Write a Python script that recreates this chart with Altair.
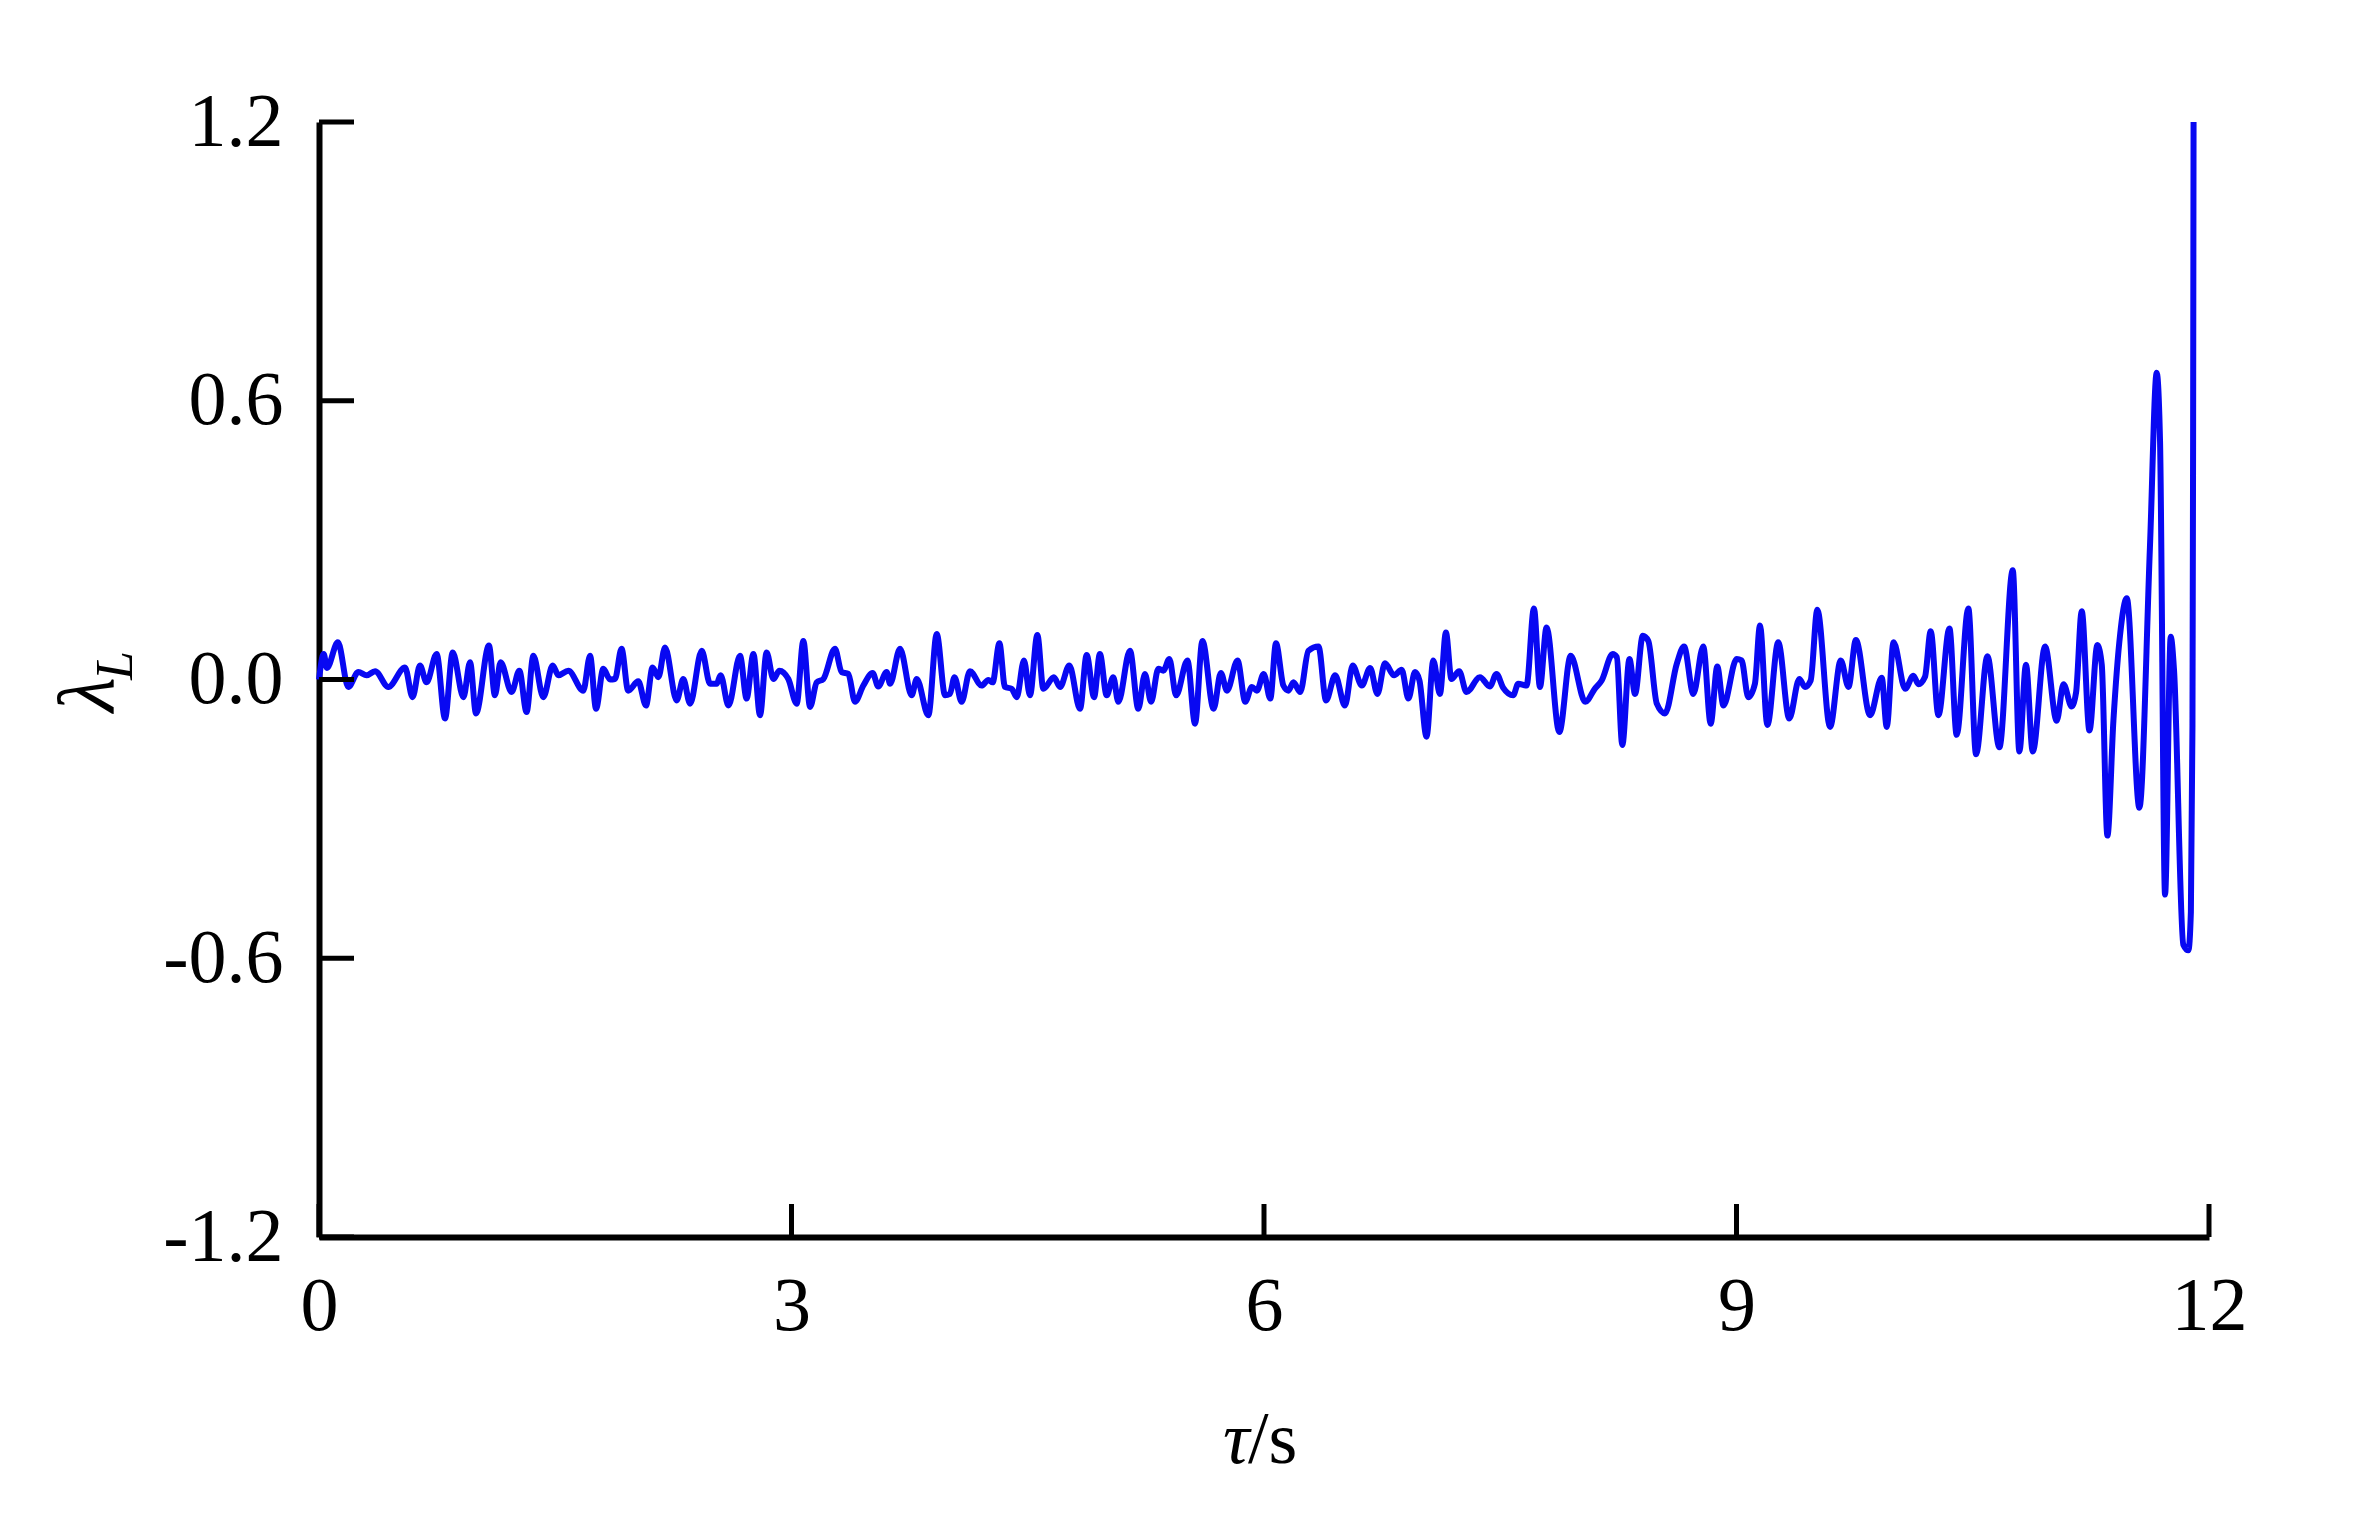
import altair as alt
import pandas as pd

# time (s) and lambda_L values
t_vals = [0.0, 0.03, 0.05, 0.12, 0.186, 0.25, 0.302, 0.356, 0.44, 0.546, 0.594, 0.641, 0.683, 0.747, 0.80, 0.849,
          0.917, 0.959, 0.997, 1.079, 1.117, 1.153, 1.223, 1.272, 1.318, 1.361, 1.424, 1.484, 1.52, 1.583, 1.678,
          1.721, 1.759, 1.805, 1.848, 1.879, 1.921, 1.963, 2.027, 2.076, 2.118, 2.155, 2.197, 2.271, 2.313, 2.356,
          2.43, 2.483, 2.525, 2.55, 2.6, 2.673, 2.715, 2.758, 2.8, 2.842, 2.885, 2.923, 2.98, 3.033, 3.075, 3.118,
          3.16, 3.202, 3.276, 3.318, 3.361, 3.403, 3.456, 3.515, 3.551, 3.604, 3.626, 3.689, 3.763, 3.795, 3.869,
          3.922, 3.975, 4.006, 4.035, 4.08, 4.133, 4.207, 4.25, 4.277, 4.32, 4.355, 4.398, 4.43, 4.476, 4.514,
          4.561, 4.599, 4.666, 4.705, 4.764, 4.832, 4.874, 4.921, 4.958, 5.001, 5.043, 5.075, 5.149, 5.202, 5.244,
          5.283, 5.329, 5.361, 5.399, 5.442, 5.514, 5.562, 5.609, 5.68, 5.726, 5.765, 5.832, 5.881, 5.923, 5.955,
          5.998, 6.04, 6.076, 6.123, 6.155, 6.187, 6.23, 6.282, 6.346, 6.394, 6.452, 6.514, 6.563, 6.621, 6.674,
          6.72, 6.768, 6.826, 6.874, 6.917, 6.959, 6.987, 7.032, 7.075, 7.117, 7.155, 7.19, 7.239, 7.286, 7.371,
          7.434, 7.476, 7.519, 7.582, 7.614, 7.667, 7.714, 7.752, 7.794, 7.875, 7.947, 8.04, 8.1, 8.144, 8.214,
          8.24, 8.275, 8.32, 8.356, 8.405, 8.44, 8.494, 8.546, 8.621, 8.667, 8.726, 8.789, 8.836, 8.878, 8.917,
          9.001, 9.032, 9.075, 9.117, 9.149, 9.196, 9.265, 9.335, 9.399, 9.435, 9.471, 9.513, 9.594, 9.662,
          9.711, 9.758, 9.848, 9.922, 9.954, 9.997, 10.071, 10.123, 10.155, 10.197, 10.233, 10.282, 10.352,
          10.398, 10.472, 10.521, 10.593, 10.669, 10.754, 10.796, 10.838, 10.881, 10.959, 11.033, 11.076, 11.128,
          11.156, 11.192, 11.241, 11.291, 11.319, 11.355, 11.393, 11.436, 11.478, 11.558, 11.625, 11.668, 11.689,
          11.721, 11.757, 11.778, 11.837, 11.869, 11.885, 11.895, 11.899, 11.902]
lam_vals = [0.0, 0.055, 0.025, 0.08, -0.016, 0.016, 0.009, 0.018, -0.016, 0.026, -0.038, 0.030, -0.006, 0.055, -0.084,
            0.058, -0.038, 0.037, -0.073, 0.073, -0.034, 0.037, -0.027, 0.019, -0.070, 0.051, -0.038, 0.030, 0.009,
            0.019, -0.024, 0.051, -0.063, 0.023, 0.0, 0.001, 0.066, -0.024, -0.004, -0.056, 0.026, 0.005, 0.069,
            -0.045, 0.001, -0.052, 0.062, -0.009, -0.009, 0.009, -0.056, 0.051, -0.041, 0.055, -0.077, 0.058, 0.001,
            0.019, 0.001, -0.052, 0.083, -0.059, -0.006, 0.001, 0.066, 0.016, 0.012, -0.048, -0.013, 0.014, -0.015,
            0.016, -0.009, 0.066, -0.034, 0.001, -0.077, 0.098, -0.034, -0.031, 0.005, -0.048, 0.018, -0.013, -0.001,
            -0.006, 0.078, -0.016, -0.02, -0.038, 0.041, -0.034, 0.096, -0.02, 0.005, -0.016, 0.03, -0.063, 0.053,
            -0.038, 0.055, -0.034, 0.005, -0.048, 0.062, -0.063, 0.012, -0.048, 0.023, 0.019, 0.044, -0.034, 0.041,
            -0.095, 0.083, -0.063, 0.014, -0.024, 0.041, -0.048, -0.016, -0.024, 0.012, -0.041, 0.078, -0.013, -0.024,
            -0.006, -0.027, 0.062, 0.071, -0.045, 0.009, -0.056, 0.03, -0.013, 0.025, -0.031, 0.035, 0.009, 0.021,
            -0.041, 0.016, -0.002, -0.123, 0.041, -0.031, 0.101, 0.001, 0.018, -0.027, 0.005, -0.015, 0.012, -0.018,
            -0.034, -0.009, -0.013, 0.153, -0.016, 0.112, -0.113, 0.051, -0.048, -0.02, -0.002, 0.055, 0.048, -0.141,
            0.044, -0.031, 0.094, 0.083, -0.052, -0.073, 0.034, 0.071, -0.031, 0.071, -0.095, 0.028, -0.056, 0.044,
            0.041, -0.038, -0.009, 0.116, -0.098, 0.08, -0.084, 0.001, -0.016, -0.002, 0.15, -0.102, 0.041, -0.016,
            0.085, -0.077, 0.004, -0.102, 0.08, -0.02, 0.008, -0.01, 0.006, 0.104, -0.077, 0.110, -0.119, 0.153,
            -0.161, 0.05, -0.146, 0.235, -0.155, 0.032, -0.155, 0.071, -0.089, -0.01, -0.058, -0.028, 0.147, -0.11,
            0.074, 0.032, -0.336, -0.089, 0.098, 0.175, -0.276, 0.285, 0.66, 0.515, -0.463, 0.092, 0.02, -0.571,
            -0.583, -0.5, -0.1, 0.5, 1.2]

x_ticks = [0, 3, 6, 9, 12]
y_ticks = [-1.2, -0.6, 0.0, 0.6, 1.2]

W, H = 1890, 1115
FONT = "Liberation Serif"
BLUE = "#0808F2"

df = pd.DataFrame({"t": t_vals, "v": lam_vals})
xt = pd.DataFrame({"t": x_ticks})
yt = pd.DataFrame({"v": y_ticks})

xscale = alt.Scale(domain=[0, 12], nice=False, zero=False)
yscale = alt.Scale(domain=[-1.2, 1.2], nice=False, zero=False)

xaxis = alt.Axis(values=x_ticks, title=None, grid=False, ticks=False, domainColor="black", domainWidth=6,
                 labelFont=FONT, labelFontSize=76, labelColor="black", labelPadding=32,
                 labelFlush=False, format="d")
yaxis = alt.Axis(values=y_ticks, title=None, grid=False, ticks=False, domainColor="black", domainWidth=6,
                 labelFont=FONT, labelFontSize=76, labelColor="black", labelPadding=36,
                 labelExpr="datum.value < 0 ? '-' + format(-datum.value, '.1f') : format(datum.value, '.1f')")

line = alt.Chart(df).mark_line(color=BLUE, strokeWidth=6, interpolate="monotone").encode(
    x=alt.X("t:Q", scale=xscale, axis=xaxis),
    y=alt.Y("v:Q", scale=yscale, axis=yaxis),
)

ytick_rules = alt.Chart(yt).mark_rule(color="black", strokeWidth=5).encode(
    y=alt.Y("v:Q", scale=yscale), x=alt.value(0), x2=alt.value(35)
)
xtick_rules = alt.Chart(xt).mark_rule(color="black", strokeWidth=5).encode(
    x=alt.X("t:Q", scale=xscale), y=alt.value(H), y2=alt.value(H - 33)
)

one = pd.DataFrame({"k": [0]})
lam_txt = alt.Chart(one).mark_text(text="λ", font=FONT, fontSize=80, fontStyle="italic", angle=270,
                                   align="left", baseline="alphabetic", color="black").encode(
    x=alt.value(-206), y=alt.value(590))
sub_txt = alt.Chart(one).mark_text(text="L", font=FONT, fontSize=52, fontStyle="italic", angle=270,
                                   align="left", baseline="alphabetic", color="black").encode(
    x=alt.value(-187), y=alt.value(558))
tau_txt = alt.Chart(one).mark_text(text="τ", font=FONT, fontSize=74, fontStyle="italic",
                                   align="left", baseline="alphabetic", color="black").encode(
    x=alt.value(904), y=alt.value(1341))
s_txt = alt.Chart(one).mark_text(text="/s", font=FONT, fontSize=74,
                                 align="left", baseline="alphabetic", color="black").encode(
    x=alt.value(929), y=alt.value(1341))

chart = alt.layer(line, ytick_rules, xtick_rules, lam_txt, sub_txt, tau_txt, s_txt).properties(
    width=W, height=H,
    autosize=alt.AutoSizeParams(type="none"),
    padding={"left": 311, "top": 114, "right": 130, "bottom": 280},
    background="white",
).configure_view(stroke=None)

chart.save("out.html", embed_options={"renderer": "svg", "actions": False})
